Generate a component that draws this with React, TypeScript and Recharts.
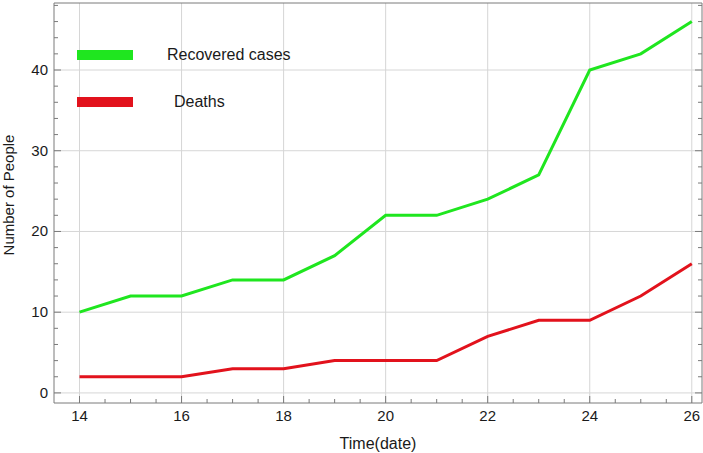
import React from 'react';
import { LineChart, Line, XAxis, YAxis, CartesianGrid, Legend } from 'recharts';

const dates = [14, 15, 16, 17, 18, 19, 20, 21, 22, 23, 24, 25, 26];
const recovered = [10, 12, 12, 14, 14, 17, 22, 22, 24, 27, 40, 42, 46];
const deaths = [2, 2, 2, 3, 3, 4, 4, 4, 7, 9, 9, 12, 16];
const seriesNames = ['Recovered cases', 'Deaths'];

const xMajorTicks = [14, 16, 18, 20, 22, 24, 26];
const xAllTicks = [
  14, 14.5, 15, 15.5, 16, 16.5, 17, 17.5, 18, 18.5, 19, 19.5, 20, 20.5, 21, 21.5, 22, 22.5, 23, 23.5, 24, 24.5, 25,
  25.5, 26,
];
const yMajorTicks = [0, 10, 20, 30, 40];
const yAllTicks = [0, 2, 4, 6, 8, 10, 12, 14, 16, 18, 20, 22, 24, 26, 28, 30, 32, 34, 36, 38, 40, 42, 44, 46, 48];

const data = dates.map((d, i) => ({ date: d, recovered: recovered[i], deaths: deaths[i] }));

const FRAME = '#7a7a7a';
const GREEN = '#1fe61f';
const RED = '#e2121c';
const TEXT = '#1a1a1a';
const xDomain = [13.5, 26.2];
const yDomain = [-1.25, 48.3];

// frame ticks point inward, Mathematica style; labels only on major ticks
const FrameTick = (side: 'bottom' | 'top' | 'left' | 'right', majors: number[]) => (props: any) => {
  const { x, y, payload } = props;
  const major = majors.includes(payload.value);
  const len = major ? 7 : 4;
  const lineProps = { stroke: FRAME, strokeWidth: 1, fill: 'none' };
  if (side === 'bottom') {
    return (
      <g>
        <path d={`M${x},${y}L${x},${y - len}`} {...lineProps} />
        {major && (
          <text x={x} y={y + 18} textAnchor="middle" fontSize={15} fill={TEXT}>
            {payload.value}
          </text>
        )}
      </g>
    );
  }
  if (side === 'left') {
    return (
      <g>
        <path d={`M${x},${y}L${x + len},${y}`} {...lineProps} />
        {major && (
          <text x={x - 6} y={y + 5} textAnchor="end" fontSize={15} fill={TEXT}>
            {payload.value}
          </text>
        )}
      </g>
    );
  }
  if (side === 'top') return <path d={`M${x},${y}L${x},${y + len}`} {...lineProps} />;
  return <path d={`M${x},${y}L${x - len},${y}`} {...lineProps} />;
};

const renderLegend = (props: any) => {
  const items = [...(props.payload || [])].sort(
    (a: any, b: any) => seriesNames.indexOf(a.value) - seriesNames.indexOf(b.value)
  );
  return (
    <div>
      {items.map((entry: any, i: number) => (
        <div key={i} style={{ display: 'flex', alignItems: 'center', height: 47 }}>
          <div style={{ width: 56, height: 10, background: entry.color }} />
          <span style={{ marginLeft: i === 0 ? 34 : 41, fontSize: 16, color: TEXT }}>{entry.value}</span>
        </div>
      ))}
    </div>
  );
};

export default function App() {
  return (
    <div style={{ position: 'absolute', left: 0, top: 0 }}>
      <LineChart
        width={703}
        height={453}
        data={data}
        margin={{ top: 0, right: 0, bottom: 0, left: 0 }}
        style={{ fontFamily: '"Liberation Sans", Arial, sans-serif', background: '#fff' }}
      >
        <CartesianGrid stroke="#d6d6d6" verticalValues={xMajorTicks} horizontalValues={yMajorTicks} />
        <XAxis
          dataKey="date"
          type="number"
          domain={xDomain}
          allowDataOverflow
          ticks={xAllTicks}
          interval={0}
          height={50}
          tickSize={0}
          tickMargin={0}
          tickLine={false}
          stroke={FRAME}
          tick={FrameTick('bottom', xMajorTicks)}
          label={{ value: 'Time(date)', position: 'center', dy: 15, fill: TEXT, fontSize: 16 }}
        />
        <XAxis
          xAxisId="top"
          orientation="top"
          type="number"
          domain={xDomain}
          allowDataOverflow
          ticks={xAllTicks}
          interval={0}
          height={3}
          tickSize={0}
          tickMargin={0}
          tickLine={false}
          stroke={FRAME}
          tick={FrameTick('top', xMajorTicks)}
        />
        <YAxis
          type="number"
          domain={yDomain}
          allowDataOverflow
          ticks={yAllTicks}
          interval={0}
          width={54}
          tickSize={0}
          tickMargin={0}
          tickLine={false}
          stroke={FRAME}
          tick={FrameTick('left', yMajorTicks)}
          label={{ value: 'Number of People', angle: -90, position: 'center', dx: -18, dy: -8, fill: TEXT, fontSize: 15 }}
        />
        <YAxis
          yAxisId="right"
          orientation="right"
          type="number"
          domain={yDomain}
          allowDataOverflow
          ticks={yAllTicks}
          interval={0}
          width={1}
          tickSize={0}
          tickMargin={0}
          tickLine={false}
          stroke={FRAME}
          tick={FrameTick('right', yMajorTicks)}
        />
        <Legend
          layout="horizontal"
          verticalAlign="middle"
          align="center"
          content={renderLegend}
          wrapperStyle={{ left: 77, top: 31, width: 'auto', height: 'auto' }}
        />
        <Line name="Recovered cases" dataKey="recovered" type="linear" stroke={GREEN} strokeWidth={3} dot={false} isAnimationActive={false} />
        <Line name="Deaths" dataKey="deaths" type="linear" stroke={RED} strokeWidth={3} dot={false} isAnimationActive={false} />
      </LineChart>
    </div>
  );
}
